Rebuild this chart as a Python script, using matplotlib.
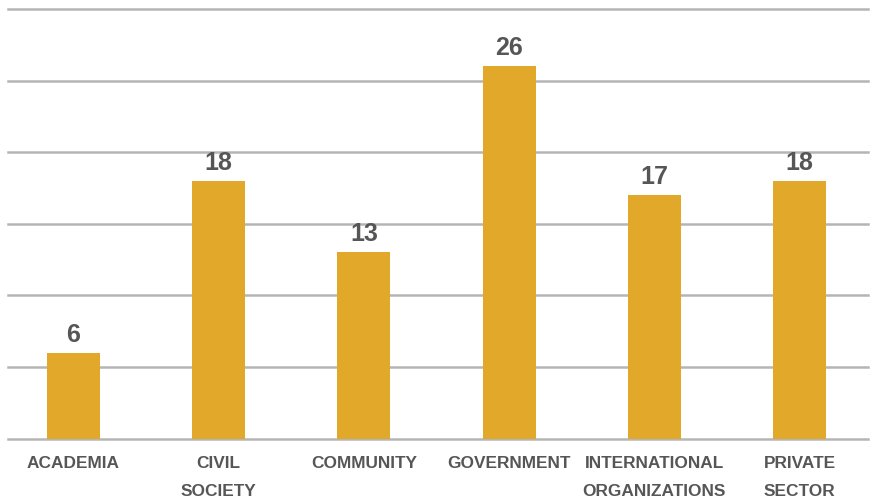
import matplotlib
matplotlib.use("Agg")
import matplotlib.pyplot as plt
import numpy as np

# Data
categories = ["ACADEMIA", "CIVIL\nSOCIETY", "COMMUNITY", "GOVERNMENT",
              "INTERNATIONAL\nORGANIZATIONS", "PRIVATE\nSECTOR"]
counts = [6, 18, 13, 26, 17, 18]
y_ticks = [0, 5, 10, 15, 20, 25, 30]

bar_color = "#E2A829"
grid_color = "#b5b5b5"
text_color = "#565656"

plt.rcParams['font.family'] = ['Liberation Sans', 'DejaVu Sans']

fig = plt.figure(figsize=(8.72, 5.02), dpi=100)
ax = fig.add_axes([8 / 872, 62.5 / 502, 860 / 872, 431 / 502])

x = np.arange(len(categories))
bars = ax.bar(x, counts, width=0.365, color=bar_color, zorder=3)

ax.bar_label(bars, labels=[str(c) for c in counts], padding=5,
             fontsize=18, fontweight='bold', color=text_color)

ax.set_xlim(-0.451, 5.472)
ax.set_ylim(0, 30.1)
ax.set_yticks(y_ticks)
ax.yaxis.grid(True, color=grid_color, linewidth=1.8, zorder=0)
ax.set_axisbelow(True)
for gl in ax.get_ygridlines():
    gl.set_clip_on(False)

ax.set_xticks(x)
ax.set_xticklabels(categories, fontsize=12.4, fontweight='bold', color=text_color)
for lab in ax.get_xticklabels():
    lab.set_linespacing(2.05)
ax.tick_params(axis='x', length=0, pad=12)
ax.tick_params(axis='y', length=0, labelleft=False)

for s in ax.spines.values():
    s.set_visible(False)

fig.savefig("out.png", dpi=100, facecolor="white")
